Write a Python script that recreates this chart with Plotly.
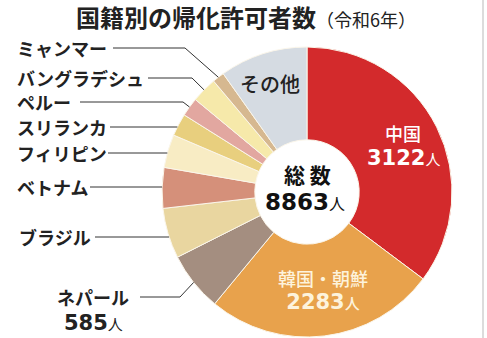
import math
import plotly.graph_objects as go

W, H = 487, 338

# ---- data ----
countries = ["中国", "韓国・朝鮮", "ネパール", "ブラジル", "ベトナム", "フィリピン",
             "スリランカ", "ペルー", "バングラデシュ", "ミャンマー", "その他"]
values = [3122, 2283, 585, 497, 401, 328, 222, 185, 253, 118, 869]
colors = ["#d32a2c", "#e8a24c", "#a48e80", "#e9d6a0", "#d5907a", "#f8ecc4",
          "#e8cf7e", "#e2a7a0", "#f6e9aa", "#d6b890", "#d5dbe2"]
total_label = "8863"
title_main = "国籍別の帰化許可者数"
title_sub = "（令和6年）"

# outside-label layout (pixel positions)
side_names = ["ミャンマー", "バングラデシュ", "ペルー", "スリランカ", "フィリピン",
              "ベトナム", "ブラジル", "ネパール"]
side_text_x = [15, 15, 15, 15, 15, 15, 17, 55]
side_text_y = [48, 78, 102, 127, 153, 187, 237, 297]
side_line_x0 = [113, 148, 80, 110, 108, 90, 95, 140]
side_elbow_x = [185, 192, 183, None, None, None, None, 180]

# pie geometry (pixels)
CX, CY, R = 307, 192, 145
HOLE = 0.36

JP = "Noto Sans CJK JP"
NUM = "DejaVu Sans, Noto Sans CJK JP"


def px(x):
    return x / W


def py(y):
    return 1 - y / H


fig = go.Figure(go.Pie(
    labels=countries, values=values, sort=False, direction="clockwise",
    rotation=0, hole=HOLE, textinfo="none", showlegend=False,
    marker=dict(colors=colors, line=dict(color="#fbf6ea", width=1)),
    domain=dict(x=[px(CX - R), px(CX + R)], y=[py(CY + R), py(CY - R)]),
))

# mid angles of slices
tot = sum(values)
mid = {}
cum = 0
for name, v in zip(countries, values):
    mid[name] = (cum + v / 2) / tot * 2 * math.pi
    cum += v

shapes = []
annotations = []
for name, tx, ty, x0, ex in zip(side_names, side_text_x, side_text_y,
                                side_line_x0, side_elbow_x):
    if ex is not None:
        a = mid[name]
        ex2 = CX + R * math.sin(a)
        ey2 = CY - R * math.cos(a)
        path = f"M {px(x0)} {py(ty)} L {px(ex)} {py(ty)} L {px(ex2)} {py(ey2)}"
    else:
        xe = CX - math.sqrt(R * R - (ty - CY) ** 2)
        path = f"M {px(x0)} {py(ty)} L {px(xe)} {py(ty)}"
    shapes.append(dict(type="path", path=path, xref="paper", yref="paper",
                       line=dict(color="#333333", width=1)))
    annotations.append(dict(text=name, x=px(tx), y=py(ty), xref="paper",
                            yref="paper", xanchor="left", yanchor="middle",
                            showarrow=False,
                            font=dict(family=JP, size=18, color="#222222",
                                      weight=700)))


def num_text(n, small):
    return (f"<b>{n}</b><span style='font-size:{small}px;font-weight:normal'>人</span>")


def num_span(n, size, small):
    return (f"<span style='font-family:DejaVu Sans;font-size:{size}px'><b>{n}</b></span>"
            f"<span style='font-size:{small}px'>人</span>")


def add(text, x, y, size, color, family=JP, weight=400, xanchor="center"):
    annotations.append(dict(text=text, x=px(x), y=py(y), xref="paper",
                            yref="paper", xanchor=xanchor, yanchor="middle",
                            showarrow=False,
                            font=dict(family=family, size=size, color=color,
                                      weight=weight)))


v = dict(zip(countries, values))
add("その他", 270, 83, 20, "#222222", weight=500)
add("中国", 403, 133, 18, "#ffffff", weight=500)
add(num_text(v["中国"], 15), 403, 158, 21, "#ffffff", family=NUM)
add("<b>総 数</b>", 307, 174, 21, "#111111")
add(num_text(total_label, 16), 305, 202, 23, "#111111", family=NUM)
add("韓国・朝鮮<br>" + num_span(v["韓国・朝鮮"], 21, 15), 323, 289, 18,
    "#fdf3dc", weight=500)
add(num_text(v["ネパール"], 15), 93, 323, 21, "#222222", family=NUM)

annotations.append(dict(
    text=f"<b>{title_main}</b><span style='font-size:18px;font-weight:normal'>{title_sub}</span>",
    x=px(74), y=py(16), xref="paper", yref="paper", xanchor="left",
    yanchor="middle", showarrow=False,
    font=dict(family=JP, size=24, color="#222222")))

shapes.append(dict(type="line", x0=px(483), x1=px(483), y0=0, y1=1,
                   xref="paper", yref="paper",
                   line=dict(color="#dcdcdc", width=2)))

fig.update_layout(width=W, height=H, margin=dict(l=0, r=0, t=0, b=0),
                  paper_bgcolor="white", plot_bgcolor="white",
                  shapes=shapes, annotations=annotations)
fig.write_html("out.html")
